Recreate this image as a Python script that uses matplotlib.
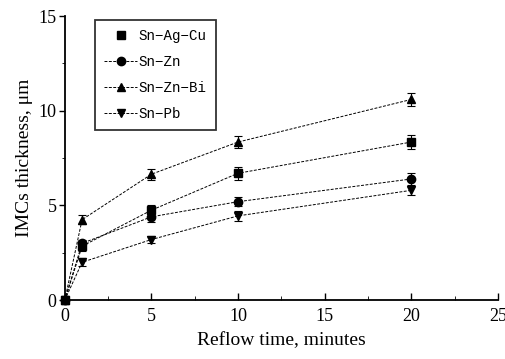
import matplotlib
matplotlib.use('Agg')
import matplotlib.pyplot as plt
from matplotlib.lines import Line2D

# Reflow time (minutes) and IMC thickness (um)
time_min = [0, 1, 5, 10, 20]
sn_ag_cu = [0, 2.85, 4.75, 6.7, 8.35]
sn_zn = [0, 3.0, 4.4, 5.2, 6.4]
sn_zn_bi = [0, 4.25, 6.65, 8.35, 10.6]
sn_pb = [0, 2.0, 3.2, 4.45, 5.8]

err_ag_cu = [0, 0.25, 0.3, 0.35, 0.35]
err_zn = [0, 0.2, 0.25, 0.25, 0.3]
err_zn_bi = [0, 0.25, 0.3, 0.3, 0.35]
err_pb = [0, 0.2, 0.2, 0.25, 0.25]

labels = ['Sn−Ag−Cu', 'Sn−Zn', 'Sn−Zn−Bi', 'Sn−Pb']
markers = ['s', 'o', '^', 'v']

plt.rcParams['font.family'] = ['Liberation Serif', 'DejaVu Serif']

fig = plt.figure(figsize=(5.06, 3.59), dpi=100)
ax = fig.add_axes([0.128, 0.164, 0.856, 0.791])

series = [sn_ag_cu, sn_zn, sn_zn_bi, sn_pb]
errs = [err_ag_cu, err_zn, err_zn_bi, err_pb]
for vals, err, m in zip(series, errs, markers):
    ax.errorbar(time_min, vals, yerr=err, color='black', marker=m, markersize=6,
                linestyle=(0, (3, 1.5)), linewidth=0.7, elinewidth=0.8,
                capsize=3, capthick=0.8, clip_on=False)

ax.set_xlim(0, 25)
ax.set_ylim(0, 15)
ax.set_xticks([0, 5, 10, 15, 20, 25])
ax.set_xticks([2.5, 7.5, 12.5, 17.5, 22.5], minor=True)
ax.set_yticks([0, 5, 10, 15])
ax.set_yticks([2.5, 7.5, 12.5], minor=True)
ax.tick_params(axis='x', direction='in', length=5, width=1, labelsize=13, pad=6)
ax.tick_params(axis='x', which='minor', direction='in', length=3)
ax.tick_params(axis='y', direction='out', length=4, width=1, labelsize=13, pad=2)
ax.tick_params(axis='y', which='minor', direction='out', length=2)
for s in ['top', 'right']:
    ax.spines[s].set_visible(False)
for s in ['left', 'bottom']:
    ax.spines[s].set_linewidth(1.3)

ax.set_xlabel('Reflow time, minutes', fontsize=14, labelpad=5)
ax.set_ylabel('IMCs thickness, μm', fontsize=14, labelpad=4)

handles = [Line2D([], [], color='black', marker='s', linestyle='none', markersize=6)]
for m in markers[1:]:
    handles.append(Line2D([], [], color='black', marker=m, markersize=6,
                          linestyle=(0, (3, 1.5)), linewidth=0.7))
leg = ax.legend(handles, labels, loc='upper left', bbox_to_anchor=(0.07, 0.987),
                borderaxespad=0, frameon=True, fancybox=False, edgecolor='black',
                prop={'family': 'Liberation Mono', 'size': 10.2},
                handlelength=2.3, handletextpad=0.1, labelspacing=0.85,
                borderpad=0.65)
leg.get_frame().set_linewidth(1.3)

fig.savefig('out.png', dpi=100)
